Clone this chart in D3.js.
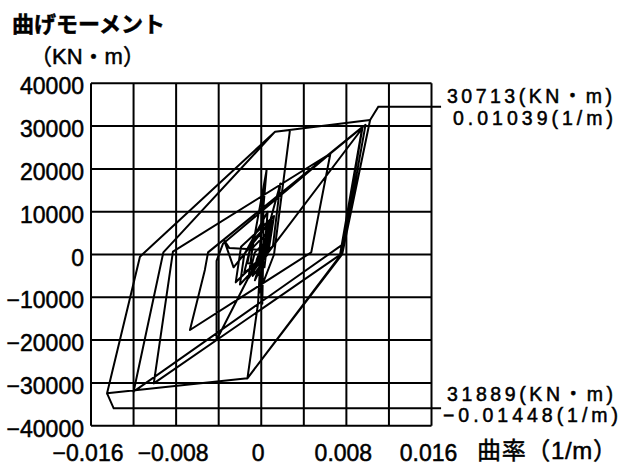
<!DOCTYPE html>
<html>
<head>
<meta charset="utf-8">
<script src="https://cdn.jsdelivr.net/npm/d3@7"></script>
<style>
  body { margin: 0; background: #fff; }
  svg text { font-family: "Liberation Sans", "Noto Sans CJK JP", sans-serif; fill: #000; stroke: #000; stroke-width: 0.5px; }
</style>
</head>
<body>
<svg id="chart" width="631" height="468"></svg>
<script>
// curvature (1/m) on x, bending moment (kN.m) on y
var curvatureTicks = [-0.016, -0.008, 0, 0.008, 0.016];
var momentTicks = [40000, 30000, 20000, 10000, 0, -10000, -20000, -30000, -40000];
var curvatureGrid = [-0.016, -0.012, -0.008, -0.004, 0, 0.004, 0.008, 0.012, 0.016];

// hysteresis trace
var hysteresis = [
  // small cycles round the origin
  [0, 0], [0.0006, 4500], [0.0003, -500], [-0.0010, -3500], [-0.0006, 500],
  [0.0004, 3000], [0.0001, -2000], [-0.0008, -5000], [-0.0004, -1000],
  [0.0009, 6500], [0.0004, -800], [-0.0016, -4200], [-0.0011, 800],
  [0.0007, 5500], [0.0003, -3000], [-0.0013, -2000], [-0.0009, 3000],
  [0.0010, 8000], [0.0006, 0], [-0.0020, -7000], [-0.0016, 0],
  [0.0006, 10000], [0.0003, 1000], [-0.0006, -6000], [-0.0002, -4000],
  [0.0002, 15400], [0.0002, 2500], [0.0001, -11500], [-0.0002, -1500],
  [0.0018, 16600], [0.0011, 2000], [-0.0024, -6500], [-0.0019, 1800],
  [0.0012, 9000], [0.0007, 1000], [-0.0030, 1500], [-0.0035, 3400], [-0.0026, -3000],
  [0.0008, 7500], [0.0004, 0], [-0.0012, -5500], [-0.0008, 2000],
  [0.0005, 19700], [-0.0002, -500],
  // medium cycles
  [-0.0042, -19980], [-0.0042, -1500], [-0.0036, 2500],
  [0.0065, 23600], [0.0047, 500], [-0.0067, -17640], [-0.0053, -3600], [-0.0050, 500],
  // large cycles
  [0.0095, 29800], [0.0074, -100], [-0.0101, -30100], [-0.0083, 650],
  [0.0065, 23600], [0.0098, 30300], [0.0078, 2600], [-0.0120, -32050], [-0.0092, 500],
  [0.0013, 28700], [0.01023, 31425], [0.0076, 0], [-0.0013, -28930],
  [-0.0003, -11400], [-0.0001, -2000], [0.0095, 29500], [0.0075, 0], [-0.0013, -28930],
  [-0.01449, -32430], [-0.0114, -510], [-0.0109, 650],
  [0.0013, 28700], [0.0027, 29090], [0.0012, 0], [-0.0002, -9000]
];

// leader lines to the max / min notes
var maxLeader = [[0.01023, 31425], [0.0110, 34540], [0.0169, 34540]];
var minLeader = [[-0.01449, -32430], [-0.01387, -35940], [0.0169, -35940]];
var maxNote = ["30713(KN・m)", "0.01039(1/m)"];
var minNote = ["31889(KN・m)", "−0.01448(1/m)"];

var svg = d3.select("#chart");

var x = d3.scaleLinear().domain([-0.016, 0.016]).range([91, 431.5]);
var y = d3.scaleLinear().domain([-40000, 40000]).range([425.7, 83.3]);

var fmtX = function(d) { return d === 0 ? "0" : (d < 0 ? "−" : "") + Math.abs(d).toFixed(3); };
var fmtY = function(d) { return (d < 0 ? "−" : "") + Math.abs(d); };

// grid
svg.append("g")
  .selectAll("line")
  .data(curvatureGrid)
  .enter().append("line")
  .attr("x1", function(d) { return x(d); })
  .attr("x2", function(d) { return x(d); })
  .attr("y1", y(40000))
  .attr("y2", y(-40000))
  .attr("stroke", "#000")
  .attr("stroke-width", 2);

svg.append("g")
  .selectAll("line")
  .data(momentTicks)
  .enter().append("line")
  .attr("x1", x(-0.016))
  .attr("x2", x(0.016))
  .attr("y1", function(d) { return y(d); })
  .attr("y2", function(d) { return y(d); })
  .attr("stroke", "#000")
  .attr("stroke-width", 2);

// tick labels
svg.append("g")
  .selectAll("text")
  .data(curvatureTicks)
  .enter().append("text")
  .attr("x", function(d) { return x(d) - 3; })
  .attr("y", 461)
  .attr("text-anchor", "middle")
  .style("font-size", "23px")
  .text(fmtX);

svg.append("g")
  .selectAll("text")
  .data(momentTicks)
  .enter().append("text")
  .attr("x", 84)
  .attr("y", function(d) { return y(d) + 11; })
  .attr("text-anchor", "end")
  .style("font-size", "23px")
  .text(fmtY);

// curve
var line = d3.line()
  .x(function(d) { return x(d[0]); })
  .y(function(d) { return y(d[1]); });

svg.append("path")
  .datum(hysteresis)
  .attr("d", line)
  .attr("fill", "none")
  .attr("stroke", "#000")
  .attr("stroke-width", 2)
  .attr("stroke-linejoin", "round");

[maxLeader, minLeader].forEach(function(l) {
  svg.append("path")
    .datum(l)
    .attr("d", line)
    .attr("fill", "none")
    .attr("stroke", "#000")
    .attr("stroke-width", 2);
});

// titles
svg.append("text").attr("x", 12).attr("y", 32).style("font-size", "22px").style("font-weight", "bold").text("曲げモーメント");
svg.append("text").attr("x", 30).attr("y", 64).style("font-size", "22px").text("（KN・m）");
svg.append("text").attr("x", 477).attr("y", 459).style("font-size", "24px")
  .attr("textLength", 140).attr("lengthAdjust", "spacing").text("曲率（1/m）");

// two-line notes; small font so the rows do not collide
function note(lines, xs, ys, widths) {
  svg.append("g")
    .selectAll("text")
    .data(lines)
    .enter().append("text")
    .attr("x", function(d, i) { return xs[i]; })
    .attr("y", function(d, i) { return ys[i]; })
    .attr("textLength", function(d, i) { return widths[i]; })
    .attr("lengthAdjust", "spacing")
    .style("font-size", "19.5px")
    .text(function(d) { return d; });
}
note(maxNote, [447, 453], [103, 124.8], [165, 160]);
note(minNote, [447, 443], [400.5, 422.3], [166, 175]);
</script>
</body>
</html>
